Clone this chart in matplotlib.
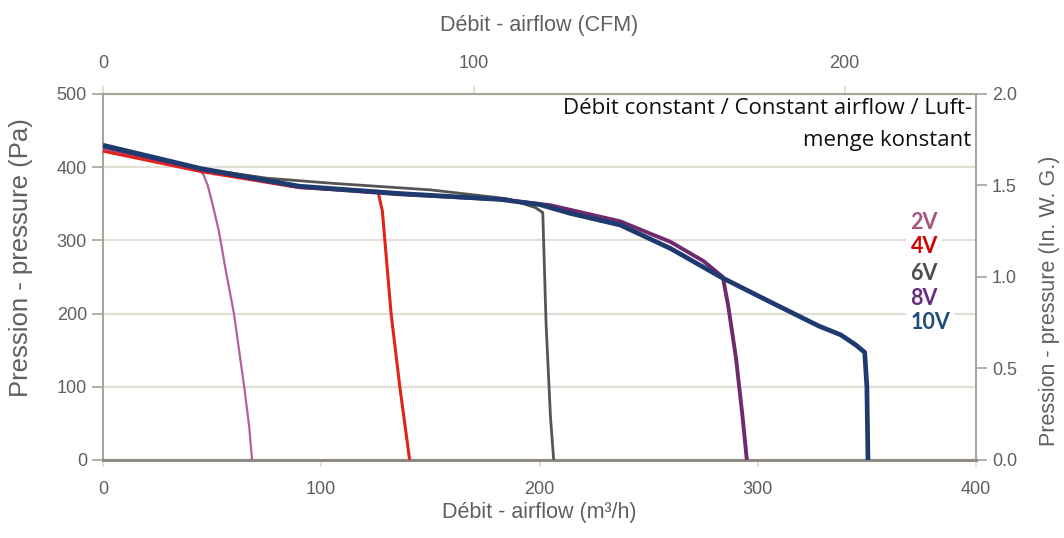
import matplotlib
matplotlib.use('Agg')
from matplotlib import pyplot as plt

# airflow (m3/h) and pressure (Pa), one pair per control voltage
v2_x = [0, 20, 44, 46, 48, 50, 53, 56.5, 60, 64.7, 67, 68.3]
v2_y = [424, 411, 396, 390, 375, 352, 314, 255, 200, 100, 45, 0]

v4_x = [0, 45, 90, 115, 126, 128, 132, 136, 140.5]
v4_y = [422, 394, 372, 368, 367, 340, 200, 100, 0]

v6_x = [0, 45, 75, 105, 150, 185, 198, 201.5, 203, 205, 206.5]
v6_y = [428, 398, 385, 378, 369, 357, 345, 338, 187, 60, 0]

v8_x = [0, 45, 90, 136, 182, 205, 237, 260, 275, 284, 286.5, 290, 293, 295]
v8_y = [428, 397, 373, 363, 356, 348, 326, 298, 272, 250, 210, 140, 60, 0]

v10_x = [0, 45, 90, 136, 182, 200, 214, 237, 260, 283, 305, 328, 338, 345, 349, 350, 350.5]
v10_y = [430, 398, 374, 364, 356, 349, 337, 321, 289, 250, 217, 183, 171, 157, 147, 100, 0]

labels = ['2V', '4V', '6V', '8V', '10V']
line_colors = ['#b4609c', '#e2231a', '#555555', '#6e2a6c', '#1f3a6e']
text_colors = ['#a3577f', '#d60000', '#4d4d4d', '#6b2d80', '#1f4e79']
widths = [1.6, 2.2, 2.0, 2.8, 3.4]

x_ticks = [0, 100, 200, 300, 400]
y_ticks = [0, 100, 200, 300, 400, 500]
cfm_ticks = [0, 100, 200]
inwg_ticks = [0.0, 0.5, 1.0, 1.5, 2.0]

note = 'Débit constant / Constant airflow / Luft-\nmenge konstant'

axis_grey = '#a8a39b'
text_grey = '#5f5f5f'
plt.rcParams['font.family'] = ['Liberation Sans', 'DejaVu Sans']

fig = plt.figure(figsize=(10.64, 5.38), dpi=100)
ax = fig.add_axes([0.0968, 0.145, 0.8205, 0.6803])

series = [(v2_x, v2_y), (v4_x, v4_y), (v6_x, v6_y), (v8_x, v8_y), (v10_x, v10_y)]
for (xs, ys), c, w in zip(series, line_colors, widths):
    ax.plot(xs, ys, color=c, lw=w, solid_capstyle='butt', solid_joinstyle='round', zorder=3)

ax.set_xlim(0, 400)
ax.set_ylim(0, 500)
ax.set_xticks(x_ticks)
ax.set_yticks(y_ticks)
ax.yaxis.grid(True, color='#e3ded6', lw=1.6)
ax.set_axisbelow(True)

for side in ['left', 'right', 'top']:
    ax.spines[side].set_color(axis_grey)
    ax.spines[side].set_linewidth(1.5)
ax.spines['bottom'].set_color('#8f8a83')
ax.spines['bottom'].set_linewidth(2.2)

ax.tick_params(axis='y', colors=axis_grey, labelcolor=text_grey, labelsize=13, length=8, width=1.2)
ax.tick_params(axis='x', colors='#dcd8d0', labelcolor=text_grey, labelsize=13, length=5, width=1.2, pad=10)
ax.set_xlabel('Débit - airflow (m³/h)', fontsize=15.5, color=text_grey, labelpad=3)
ax.set_ylabel('Pression - pressure (Pa)', fontsize=18.5, color=text_grey)
ax.yaxis.set_label_coords(-0.0805, 0.552)

top = ax.secondary_xaxis('top', functions=(lambda q: q / 1.699, lambda q: q * 1.699))
top.set_xticks(cfm_ticks)
top.tick_params(colors='#dcd8d0', labelcolor=text_grey, labelsize=13, length=6, width=1.2, pad=10)
top.spines['top'].set_visible(False)
top.set_xlabel('Débit - airflow (CFM)', fontsize=15.5, color=text_grey, labelpad=17)

right = ax.secondary_yaxis('right', functions=(lambda q: q / 250, lambda q: q * 250))
right.set_yticks(inwg_ticks)
right.set_yticklabels([f'{t:.1f}' for t in inwg_ticks])
right.tick_params(colors=axis_grey, labelcolor=text_grey, labelsize=13, length=8, width=1.2)
right.spines['right'].set_visible(False)
fig.text(1050 / 1064, 1 - 301 / 538, 'Pression - pressure (In. W. G.)', rotation=90,
         ha='center', va='center', fontsize=15.5, color=text_grey)

ax.text(398, 494, note, ha='right', va='top', fontsize=16, family=['Open Sans', 'DejaVu Sans'],
        color='#111111', linespacing=1.65, zorder=5)

label_y = [325, 292, 255, 221, 188]
for lab, c, yy in zip(labels, text_colors, label_y):
    ax.text(370, yy, lab, ha='left', va='center', fontsize=15.5, fontweight='bold',
            family=['Lato', 'DejaVu Sans'], color=c, zorder=5,
            bbox=dict(facecolor='white', edgecolor='none', pad=3))

fig.savefig('out.png', dpi=100)
